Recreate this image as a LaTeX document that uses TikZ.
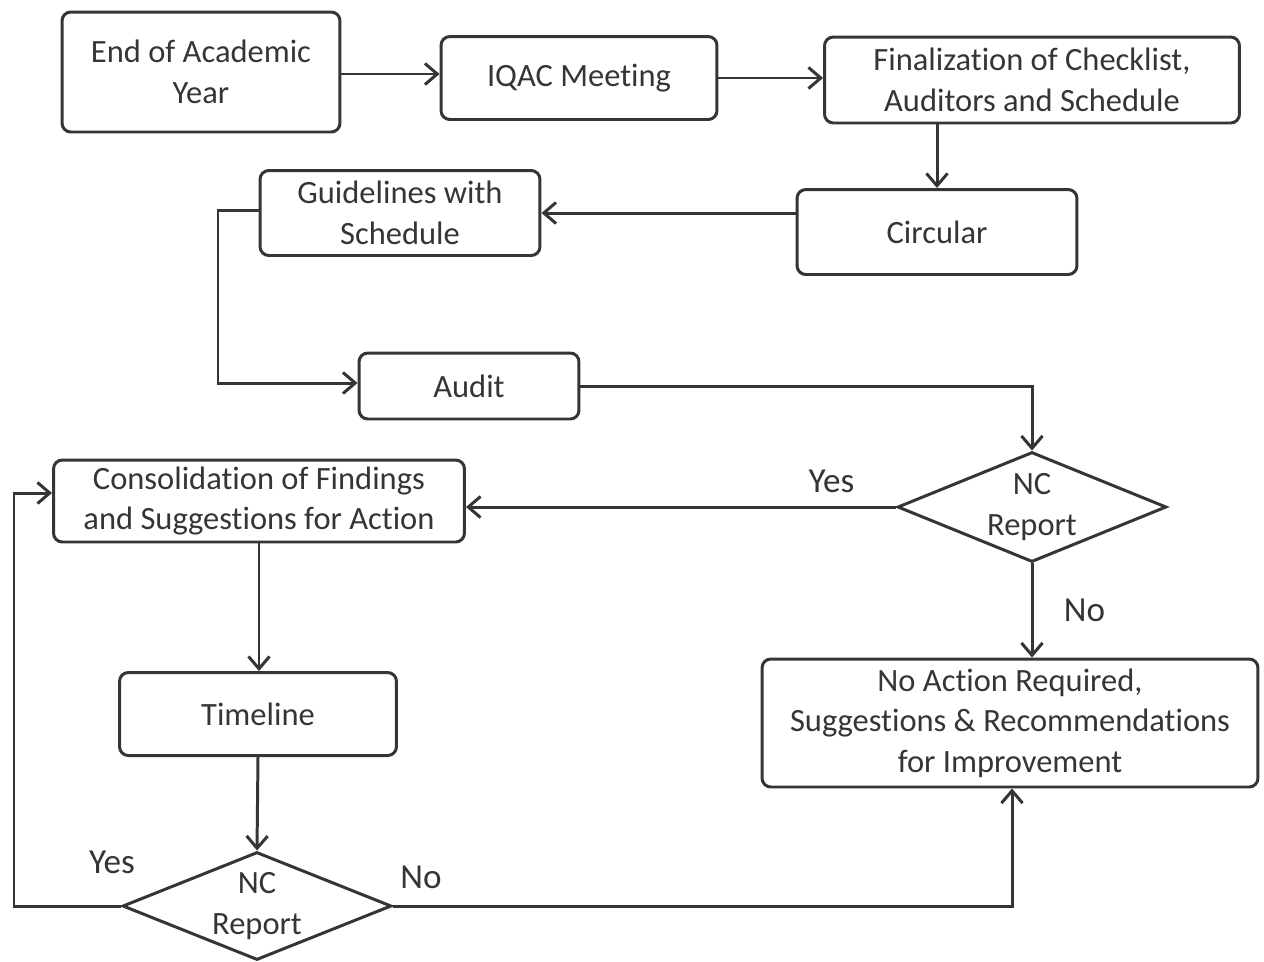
\documentclass[tikz,border=0pt]{standalone}
\usepackage{fontspec}
\setmainfont{Carlito}[Ligatures=NoCommon]
\usetikzlibrary{shapes.geometric,arrows.meta}
\definecolor{ink}{HTML}{353535}
\tikzset{
  box/.style={draw=ink, line width=1.7pt, rounded corners=5pt, align=center, text=ink, font=\fontsize{18.5}{23}\selectfont, inner sep=0pt},
  dec/.style={draw=ink, line width=1.7pt, diamond, shape aspect=2.45, align=center, text=ink, font=\fontsize{18.5}{23}\selectfont, inner sep=0pt},
  conn/.style={draw=ink, line width=1.7pt, -{Straight Barb[length=7pt,width=12pt,line width=1.7pt]}},
  lbl/.style={text=ink, font=\fontsize{20}{23}\selectfont}
}
\begin{document}
\begin{tikzpicture}[x=0.02cm, y=-0.02cm]
\useasboundingbox (0,0) rectangle (1264,961);
\node[box, minimum width=5.56cm, minimum height=2.4cm] (end) at (201,72) {End of Academic\\Year};
\node[box, minimum width=5.52cm, minimum height=1.66cm] (iqac) at (579,78) {IQAC Meeting};
\node[box, minimum width=8.3cm, minimum height=1.72cm] (fin) at (1032,80) {Finalization of Checklist,\\Auditors and Schedule};
\node[box, minimum width=5.6cm, minimum height=1.7cm] (circ) at (937,232) {Circular};
\node[box, minimum width=5.6cm, minimum height=1.7cm] (guide) at (400,213) {Guidelines with\\Schedule};
\node[box, minimum width=4.4cm, minimum height=1.32cm] (audit) at (469,386) {Audit};
\node[dec, minimum width=5.38cm, minimum height=2.2cm] (nc1) at (1032,507) {NC\\Report};
\node[box, minimum width=8.22cm, minimum height=1.64cm] (cons) at (259,501) {Consolidation of Findings\\and Suggestions for Action};
\node[box, minimum width=9.92cm, minimum height=2.56cm] (noact) at (1010,723) {No Action Required,\\Suggestions \& Recommendations\\for Improvement};
\node[box, minimum width=5.54cm, minimum height=1.66cm] (time) at (258,714) {Timeline};
\node[dec, minimum width=5.38cm, minimum height=2.16cm] (nc2) at (257,906) {NC\\Report};
\coordinate (gl) at (218,210);
\coordinate (al) at (218,383);
\coordinate (ar) at (1032,386);
\coordinate (yl) at (14,906);
\coordinate (yt) at (14,493);
\coordinate (nr) at (1012,906);

\draw[conn] (end.east |- 0,74) -- (iqac.west |- 0,74);
\draw[conn] (iqac.east |- 0,78) -- (fin.west |- 0,78);
\draw[conn] (fin.south -| circ.north) -- (circ.north);
\draw[conn] (circ.west |- 0,213) -- (guide.east |- 0,213);
\draw[conn] (guide.west |- gl) -- (gl) -- (al) -- (audit.west |- al);
\draw[conn] (audit.east) -- (ar) -- (nc1.north);
\draw[conn] (nc1.west) -- (cons.east |- nc1.west) node[lbl, pos=0.15, above=4pt] {Yes};
\draw[conn] (nc1.south) -- (noact.north -| nc1.south) node[lbl, midway, right=14pt] {No};
\draw[conn] (cons.south) -- (time.north -| cons.south);
\draw[conn] (time.south) -- (nc2.north);
\draw[conn] (nc2.west) -- (yl) -- (yt) -- (cons.west |- yt);
\node[lbl] at (112,862) {Yes};
\draw[conn] (nc2.east) -- (nr) -- (noact.south -| nr);
\node[lbl] at (421,877) {No};
\end{tikzpicture}
\end{document}
